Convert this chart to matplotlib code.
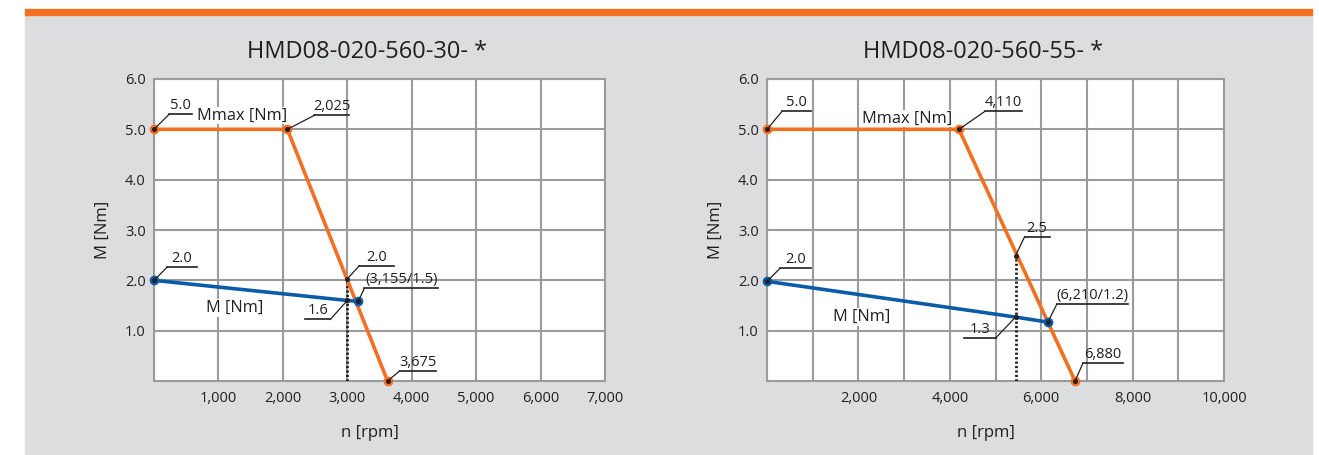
import matplotlib
matplotlib.use("Agg")
import matplotlib.pyplot as plt
from matplotlib.lines import Line2D
from matplotlib.patches import Rectangle
from matplotlib.ticker import FuncFormatter, MultipleLocator

plt.rcParams['font.family'] = ['Open Sans', 'DejaVu Sans']

W, H = 1319, 455
ORANGE = '#f36f21'
BLUE = '#0b5ca8'
GRID = '#9b9b9b'
PANEL = '#dcdddf'
INK = '#231f20'

# ---------------- data ----------------
titles = ["HMD08-020-560-30- *", "HMD08-020-560-55- *"]
x_max = [7000, 10000]
x_ticks = [[1000, 2000, 3000, 4000, 5000, 6000, 7000],
           [2000, 4000, 6000, 8000, 10000]]
y_ticks = [1.0, 2.0, 3.0, 4.0, 5.0, 6.0]

# Mmax curves
left_mmax_n = [0, 2070, 3625]
left_mmax_m = [5.0, 5.0, 0.0]
right_mmax_n = [0, 4200, 6740]
right_mmax_m = [5.0, 5.0, 0.0]

# M curves
left_m_n = [0, 3000, 3170]
left_m_m = [2.0, 1.6, 1.58]
right_m_n = [0, 5440, 6145]
right_m_m = [1.98, 1.27, 1.17]

# rated speed marker (dotted line), value on Mmax curve
left_rated = (3000, 2.03)
right_rated = (5440, 2.49)

# callout labels: (text, x, y, dx px, dy px, underline length px)
left_callouts = [
    ("5.0", 0, 5.0, 15, 15, 23),
    ("2,025", 2070, 5.0, 27, 14, 35),
    ("2.0", 3000, 2.03, 12, 13, 35),
    ("(3,155/1.5)", 3170, 1.58, 6, 13, 74),
    ("1.6", 3000, 1.6, -17, -19, -25),
    ("3,675", 3625, 0.0, 12, 10, 36),
    ("2.0", 0, 2.0, 13, 13, 30),
]
right_callouts = [
    ("5.0", 0, 5.0, 15, 18, 29),
    ("4,110", 4200, 5.0, 26, 18, 37),
    ("2.5", 5440, 2.49, 9, 19, 25),
    ("2.0", 0, 1.98, 13, 13, 31),
    ("(6,210/1.2)", 6145, 1.17, 9, 18, 71),
    ("1.3", 5440, 1.27, -20, -21, -32),
    ("6,880", 6740, 0.0, 8, 18, 40),
]
left_curve_labels = [("Mmax [Nm]", 1366, 5.27), ("M [Nm]", 1252, 1.45)]
right_curve_labels = [("Mmax [Nm]", 3063, 5.21), ("M [Nm]", 2079, 1.27)]

fig = plt.figure(figsize=(W / 100, H / 100), dpi=100)
fig.patch.set_facecolor('white')
fig.add_artist(Rectangle((25 / W, 0), (1312 - 25) / W, (H - 15) / H,
                         transform=fig.transFigure, color=PANEL, zorder=-2))
fig.add_artist(Rectangle((25 / W, (H - 15) / H), (1312 - 25) / W, 6 / H,
                         transform=fig.transFigure, color=ORANGE, zorder=-2))


def px(ax, x, y):
    # data -> display pixels
    return ax.transData.transform((x, y))


def callout(ax, text, x, y, dx, dy, length):
    p = px(ax, x, y)
    e = (p[0] + dx, p[1] + dy)
    inv = fig.transFigure.inverted()
    pts = inv.transform([p, e, (e[0] + length, e[1])])
    fig.add_artist(Line2D(pts[:2, 0], pts[:2, 1], color=INK, lw=0.9,
                          transform=fig.transFigure, zorder=5))
    fig.add_artist(Line2D(pts[1:, 0], pts[1:, 1], color=INK, lw=1.2,
                          transform=fig.transFigure, zorder=5))
    cx, cy = inv.transform((e[0] + length / 2, e[1] + 1))
    fig.text(cx, cy, text, ha='center', va='bottom', fontsize=10.5,
             color=INK, zorder=6)


axes_px = [(154, 79, 605, 381), (767, 79, 1224, 381)]
panels = [
    (left_mmax_n, left_mmax_m, left_m_n, left_m_m, left_rated, left_callouts, left_curve_labels),
    (right_mmax_n, right_mmax_m, right_m_n, right_m_m, right_rated, right_callouts, right_curve_labels),
]

for i, (x0, y0, x1, y1) in enumerate(axes_px):
    ax = fig.add_axes([x0 / W, (H - y1) / H, (x1 - x0) / W, (y1 - y0) / H])
    ax.set_facecolor('white')
    ax.set_xlim(0, x_max[i])
    ax.set_ylim(0, 6)
    ax.set_xticks(x_ticks[i])
    ax.xaxis.set_minor_locator(MultipleLocator(1000))
    ax.set_yticks(y_ticks)
    ax.xaxis.set_major_formatter(FuncFormatter(lambda v, p: f"{int(v):,}"))
    ax.yaxis.set_major_formatter(FuncFormatter(lambda v, p: f"{v:.1f}"))
    ax.tick_params(which='both', length=0, labelsize=10.5, colors=INK)
    ax.tick_params(axis='x', pad=7)
    ax.tick_params(axis='y', pad=6)
    ax.grid(True, which='both', color=GRID, lw=1.5)
    ax.set_axisbelow(True)
    for s in ax.spines.values():
        s.set_color(GRID)
        s.set_linewidth(1.5)

    mn, mm, bn, bm, rated, calls, labels = panels[i]
    ax.plot([rated[0], rated[0]], [0, rated[1]], color=INK, lw=2.0,
            ls=(0, (0.8, 0.8)), zorder=3)
    ax.plot(mn, mm, color=ORANGE, lw=2.6, solid_capstyle='round', zorder=4,
            clip_on=False)
    ax.plot(bn, bm, color=BLUE, lw=2.6, solid_capstyle='round', zorder=4,
            clip_on=False)
    ax.plot(mn, mm, 'o', color=ORANGE, ms=6, zorder=5, clip_on=False)
    ax.plot([bn[0], bn[-1]], [bm[0], bm[-1]], 'o', color=BLUE, ms=6, zorder=5,
            clip_on=False)
    for t, x, y, dx, dy, ln in calls:
        ax.plot(x, y, 'o', color=INK, ms=2.6, zorder=6, clip_on=False)
    for t, x, y in labels:
        ax.text(x, y, t, ha='center', va='center', fontsize=11.8, color=INK,
                bbox=dict(facecolor='white', edgecolor='none', pad=0.5), zorder=3.5)

    for t, x, y, dx, dy, ln in calls:
        callout(ax, t, x, y, dx, dy, ln)

    cx = (x0 + x1) / 2
    fig.text((cx - 12) / W, 1 - 52 / H, titles[i], ha='center', va='center',
             fontsize=17, color=INK)
    fig.text((cx - 10) / W, 1 - 433 / H, "n [rpm]", ha='center', va='center',
             fontsize=12, color=INK)
    fig.text((x0 - 51) / W, 1 - 230 / H, "M [Nm]", ha='center', va='center',
             rotation=90, fontsize=12, color=INK)

fig.savefig("out.png", dpi=100)
